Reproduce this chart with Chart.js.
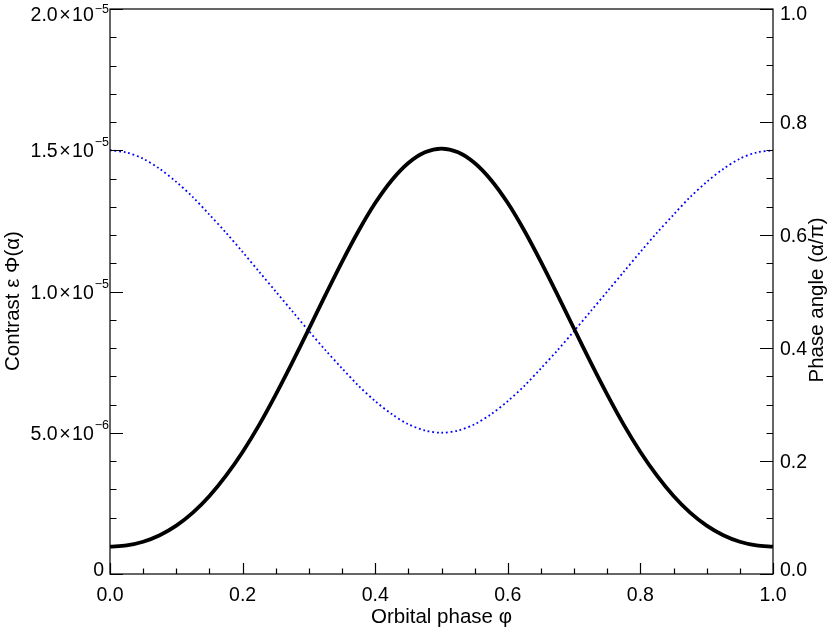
<!DOCTYPE html>
<html>
<head>
<meta charset="utf-8">
<script src="https://cdn.jsdelivr.net/npm/chart.js@4/dist/chart.umd.min.js"></script>
<style>
  body { margin: 0; background: #fff; }
  #wrap { width: 830px; height: 627px; }
</style>
</head>
<body>
<div id="wrap"><canvas id="phaseChart" width="830" height="627"></canvas></div>
<script>
// orbital phase samples
var orbitalPhase = [0.000, 0.025, 0.050, 0.075, 0.100, 0.125, 0.150, 0.175, 0.200, 0.225,
                    0.250, 0.275, 0.300, 0.325, 0.350, 0.375, 0.400, 0.425, 0.450, 0.475,
                    0.500, 0.525, 0.550, 0.575, 0.600, 0.625, 0.650, 0.675, 0.700, 0.725,
                    0.750, 0.775, 0.800, 0.825, 0.850, 0.875, 0.900, 0.925, 0.950, 0.975, 1.000];
// contrast eps*Phi(alpha), left axis
var contrast = [0.97e-6, 1.01e-6, 1.14e-6, 1.37e-6, 1.71e-6, 2.17e-6, 2.76e-6, 3.48e-6, 4.32e-6, 5.28e-6,
                6.35e-6, 7.49e-6, 8.68e-6, 9.88e-6, 11.05e-6, 12.15e-6, 13.13e-6, 13.94e-6, 14.55e-6, 14.93e-6,
                15.06e-6, 14.93e-6, 14.55e-6, 13.94e-6, 13.13e-6, 12.15e-6, 11.05e-6, 9.88e-6, 8.68e-6, 7.49e-6,
                6.35e-6, 5.28e-6, 4.32e-6, 3.48e-6, 2.76e-6, 2.17e-6, 1.71e-6, 1.37e-6, 1.14e-6, 1.01e-6, 0.97e-6];
// phase angle alpha/pi, right axis
var phaseAngle = [0.750, 0.746, 0.735, 0.717, 0.694, 0.667, 0.636, 0.604, 0.570, 0.535,
                  0.500, 0.465, 0.430, 0.396, 0.364, 0.333, 0.306, 0.283, 0.265, 0.254,
                  0.250, 0.254, 0.265, 0.283, 0.306, 0.333, 0.364, 0.396, 0.430, 0.465,
                  0.500, 0.535, 0.570, 0.604, 0.636, 0.667, 0.694, 0.717, 0.735, 0.746, 0.750];

var xTicks = [0, 0.2, 0.4, 0.6, 0.8, 1.0];
var xTickLabels = ['0.0', '0.2', '0.4', '0.6', '0.8', '1.0'];
var leftTicks = [0, 5e-6, 1e-5, 1.5e-5, 2e-5];
var leftTickMant = ['0', '5.0', '1.0', '1.5', '2.0'];
var leftTickExp = ['', '\u22126', '\u22125', '\u22125', '\u22125'];
var rightTicks = [0, 0.2, 0.4, 0.6, 0.8, 1.0];
var rightTickLabels = ['0.0', '0.2', '0.4', '0.6', '0.8', '1.0'];

var FONT = '"Liberation Sans", Arial, Helvetica, sans-serif';

function pts(xs, ys) {
    return xs.map(function (x, i) { return { x: x, y: ys[i] }; });
}

// IDL-style frame, inward ticks, labels with superscripts, titles
var idlAxes = {
    id: 'idlAxes',
    afterDraw: function (chart) {
        var ctx = chart.ctx;
        var a = chart.chartArea;
        var sx = chart.scales.x, sy = chart.scales.y, sr = chart.scales.y1;
        var i, v, p;
        ctx.save();
        ctx.strokeStyle = '#000';
        ctx.fillStyle = '#000';
        ctx.lineWidth = 1.2;
        ctx.strokeRect(a.left, a.top, a.right - a.left, a.bottom - a.top);

        ctx.beginPath();
        // bottom: major 0.2, minor 0.05
        for (i = 0; i <= 20; i++) {
            v = i * 0.05;
            p = Math.round(sx.getPixelForValue(v)) + 0.5;
            var lx = (i % 4 === 0) ? 11 : 5.5;
            ctx.moveTo(p, a.bottom); ctx.lineTo(p, a.bottom - lx);
        }
        // left: major 5e-6, minor 1e-6
        for (i = 0; i <= 20; i++) {
            v = i * 1e-6;
            p = Math.round(sy.getPixelForValue(v)) + 0.5;
            var ly = (i % 5 === 0) ? 13 : 6.5;
            ctx.moveTo(a.left, p); ctx.lineTo(a.left + ly, p);
        }
        // right: major 0.2, minor 0.05
        for (i = 0; i <= 20; i++) {
            v = i * 0.05;
            p = Math.round(sr.getPixelForValue(v)) + 0.5;
            var lr = (i % 4 === 0) ? 13 : 6.5;
            ctx.moveTo(a.right, p); ctx.lineTo(a.right - lr, p);
        }
        ctx.stroke();

        var fs = 19.5, es = 12.5;
        ctx.font = fs + 'px ' + FONT;
        ctx.textBaseline = 'alphabetic';

        // bottom tick labels
        ctx.textAlign = 'center';
        xTicks.forEach(function (t, k) {
            ctx.fillText(xTickLabels[k], sx.getPixelForValue(t), a.bottom + 27);
        });

        // left tick labels (mantissa x 10^exp)
        ctx.textAlign = 'left';
        leftTicks.forEach(function (t, k) {
            var cy = sy.getPixelForValue(t);
            cy = Math.min(Math.max(cy, a.top + 5), a.bottom - 5.5);
            var base = cy + 7;
            ctx.font = fs + 'px ' + FONT;
            if (!leftTickExp[k]) {
                var w0 = ctx.measureText(leftTickMant[k]).width;
                ctx.fillText(leftTickMant[k], a.left - 6 - w0, base);
                return;
            }
            ctx.font = es + 'px ' + FONT;
            var we = ctx.measureText(leftTickExp[k]).width;
            var ex = a.left - 1 - we;
            ctx.fillText(leftTickExp[k], ex, base - (k === leftTicks.length - 1 ? 8 : 11));
            ctx.font = fs + 'px ' + FONT;
            var wTen = ctx.measureText('10').width;
            var wX = ctx.measureText('\u00d7').width;
            var wM = ctx.measureText(leftTickMant[k]).width;
            var x10 = ex - 1 - wTen;
            var xX = x10 - 1.5 - wX;
            var xM = xX - 1.5 - wM;
            ctx.fillText('10', x10, base);
            ctx.fillText('\u00d7', xX, base);
            ctx.fillText(leftTickMant[k], xM, base);
        });

        // right tick labels
        ctx.font = fs + 'px ' + FONT;
        ctx.textAlign = 'left';
        rightTicks.forEach(function (t, k) {
            var cy = sr.getPixelForValue(t);
            cy = Math.min(Math.max(cy, a.top + 4), a.bottom - 5.5);
            ctx.fillText(rightTickLabels[k], a.right + 7, cy + 7);
        });

        // axis titles
        ctx.font = '20.5px ' + FONT;
        ctx.textAlign = 'center';
        ctx.fillText('Orbital phase \u03c6', (a.left + a.right) / 2, 623);
        ctx.save();
        ctx.translate(19, 301);
        ctx.rotate(-Math.PI / 2);
        ctx.fillText('Contrast \u03b5 \u03a6(\u03b1)', 0, 0);
        ctx.restore();
        ctx.save();
        ctx.translate(823, 300);
        ctx.rotate(-Math.PI / 2);
        ctx.fillText('Phase angle (\u03b1/\u03c0)', 0, 0);
        ctx.restore();
        ctx.restore();
    }
};

var ctx = document.getElementById('phaseChart').getContext('2d');
var chart = new Chart(ctx, {
    type: 'line',
    data: {
        datasets: [{
            label: 'Contrast',
            data: pts(orbitalPhase, contrast),
            yAxisID: 'y',
            borderColor: '#000000',
            borderWidth: 3.8,
            pointRadius: 0,
            tension: 0.3,
            fill: false
        }, {
            label: 'Phase angle',
            data: pts(orbitalPhase, phaseAngle),
            yAxisID: 'y1',
            borderColor: '#0000ff',
            borderWidth: 1.8,
            borderDash: [1.8, 2.8],
            pointRadius: 0,
            tension: 0.3,
            fill: false
        }]
    },
    options: {
        responsive: false,
        animation: false,
        layout: { padding: { top: 9, left: 0, right: 0, bottom: 0 } },
        plugins: {
            legend: { display: false },
            tooltip: { enabled: false }
        },
        scales: {
            x: {
                type: 'linear',
                min: 0,
                max: 1,
                grid: { display: false },
                border: { display: false },
                ticks: { display: false },
                afterFit: function (s) { s.height = 53; }
            },
            y: {
                position: 'left',
                min: 0,
                max: 2e-5,
                grid: { display: false },
                border: { display: false },
                ticks: { display: false },
                afterFit: function (s) { s.width = 110; }
            },
            y1: {
                position: 'right',
                min: 0,
                max: 1,
                grid: { display: false },
                border: { display: false },
                ticks: { display: false },
                afterFit: function (s) { s.width = 57; }
            }
        }
    },
    plugins: [idlAxes]
});
</script>
</body>
</html>
